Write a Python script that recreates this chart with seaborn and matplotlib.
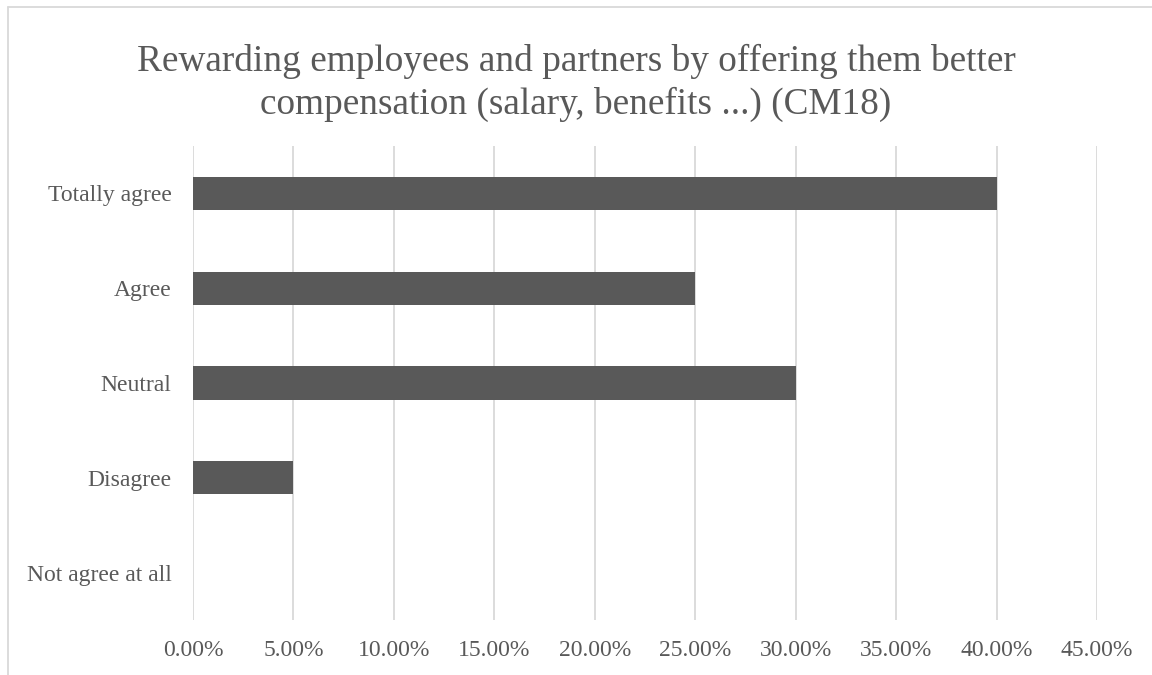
import matplotlib
matplotlib.use("Agg")
import matplotlib.pyplot as plt
from matplotlib.lines import Line2D
from matplotlib.ticker import FuncFormatter, MultipleLocator
import seaborn as sns
import pandas as pd

# Survey responses (share of respondents)
categories = ["Totally agree", "Agree", "Neutral", "Disagree", "Not agree at all"]
shares = [0.40, 0.25, 0.30, 0.05, 0.00]
title = "Rewarding employees and partners by offering them better\ncompensation (salary, benefits ...) (CM18)"

df = pd.DataFrame({"category": categories, "share": shares})

sns.set_theme(style="white")
plt.rcParams["font.family"] = ["Liberation Serif", "DejaVu Serif"]

text_color = "#595959"
grid_color = "#d9d9d9"
bar_color = "#595959"

W, H = 1152, 675
fig = plt.figure(figsize=(W / 100, H / 100), dpi=100)
ax = fig.add_axes([193 / W, 1 - 620 / H, (1097 - 193) / W, (620 - 146) / H])

sns.barplot(data=df, x="share", y="category", order=categories, orient="h",
            color=bar_color, width=0.35, saturation=1, edgecolor="none",
            linewidth=0, ax=ax)

ax.set_xlim(0, 0.45)
ax.set_ylim(4.5, -0.5)
ax.xaxis.set_major_locator(MultipleLocator(0.05))
ax.xaxis.set_major_formatter(FuncFormatter(lambda v, p: f"{v * 100:.2f}%"))
ax.grid(axis="x", color=grid_color, linewidth=1.3)
ax.set_axisbelow(True)
for s in ax.spines.values():
    s.set_visible(False)
ax.set_xlabel("")
ax.set_ylabel("")
ax.tick_params(axis="both", length=0, labelsize=17, colors=text_color)
ax.tick_params(axis="x", pad=14.5)
ax.tick_params(axis="y", pad=15.5)

fig.text(0.5, 1 - 83 / H, title, ha="center", va="center", fontsize=26.8,
         color=text_color, linespacing=1.3)

# Chart frame
fig.add_artist(Line2D([7.5 / W, 7.5 / W], [0, 1 - 7 / H], transform=fig.transFigure,
                      color=grid_color, linewidth=1.3))
fig.add_artist(Line2D([7.5 / W, 1], [1 - 7 / H, 1 - 7 / H], transform=fig.transFigure,
                      color=grid_color, linewidth=1.3))

fig.savefig("out.png", dpi=100, facecolor="white")
